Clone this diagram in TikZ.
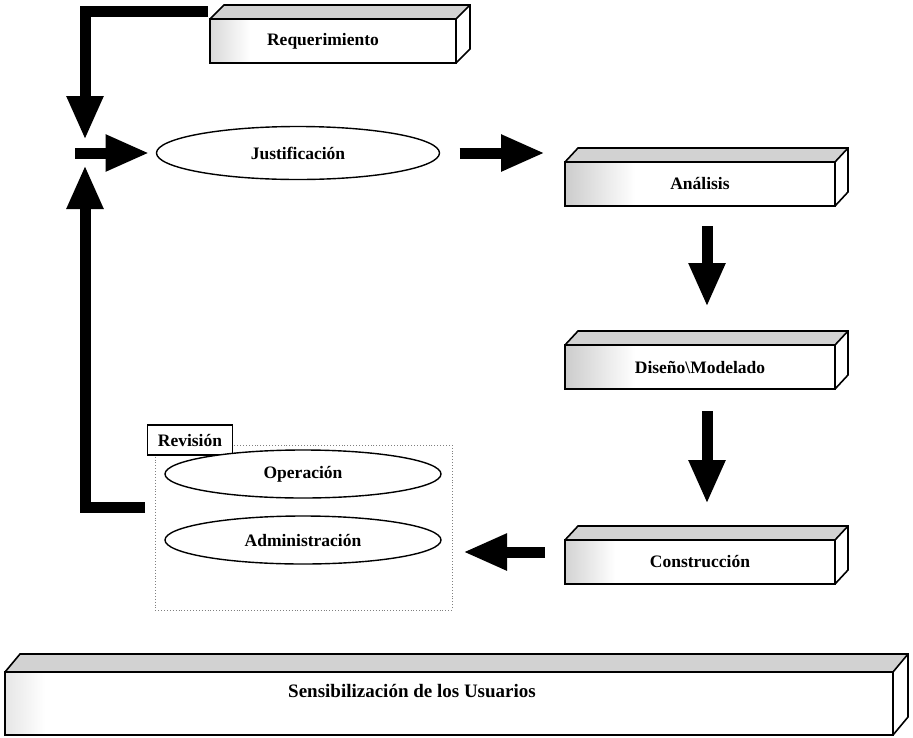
\documentclass[tikz,border=0pt]{standalone}
\usepackage{fontspec}
\setmainfont{Liberation Serif}
\usetikzlibrary{arrows.meta,calc,shapes.geometric}
\newcommand\prismfaces[5]{% name, dx, dy, fade colour, fade width
  \shade[left color=#4, right color=white] (#1.north west) rectangle ($(#1.south west)+(#5,0)$);
  \fill[gray!35] (#1.north west) -- ++(#2pt,#3pt) -- ([shift={(#2pt,#3pt)}]#1.north east) -- (#1.north east) -- cycle;
  \fill[white] (#1.north east) -- ++(#2pt,#3pt) -- ([shift={(#2pt,#3pt)}]#1.south east) -- (#1.south east) -- cycle;
  \draw[boxline] (#1.north west) rectangle (#1.south east);
  \draw[boxline] (#1.north west) -- ++(#2pt,#3pt) -- ([shift={(#2pt,#3pt)}]#1.north east) -- ([shift={(#2pt,#3pt)}]#1.south east) -- (#1.south east);
  \draw[boxline] (#1.north east) -- ++(#2pt,#3pt);
}
\begin{document}
\begin{tikzpicture}[x=1pt,y=-1pt,
  boxline/.style={line width=1.6pt, line join=miter},
  lbl/.style={font=\bfseries\fontsize{17.5}{19}\selectfont, inner sep=0pt},
  front/.style={draw, line width=1.6pt, fill=white, minimum width=270pt, minimum height=44pt, inner sep=0pt, outer sep=0pt},
  oval/.style={draw, ellipse, line width=1.4pt, fill=white, minimum width=283pt, minimum height=53pt, inner sep=0pt, outer sep=0pt, font=\bfseries\fontsize{17.5}{19}\selectfont},
  bigarrow/.style={line width=11pt, line join=miter, -{Triangle[length=44pt,width=34pt]}},
]
\fill[white] (0,0) rectangle (913,737);
\useasboundingbox (0,0) rectangle (913,737);

% prisms
\node[front, minimum width=246pt] (req) at (333,41) {};
\prismfaces{req}{14}{14}{gray!30}{40}
\node[lbl] at ($(req.center)+(-10,0)$) {Requerimiento};
\node[front] (ana) at (700,184) {};
\prismfaces{ana}{13}{14}{gray!40}{70}
\node[lbl] at (ana.center) {Análisis};
\node[front] (dis) at (700,367) {};
\prismfaces{dis}{13}{14}{gray!40}{70}
\node[lbl] at (dis.center) {Diseño\textbackslash Modelado};
\node[front] (con) at (700,562) {};
\prismfaces{con}{13}{14}{gray!35}{50}
\node[lbl] at (con.center) {Construcción};

% bottom wide prism
\node[front, minimum width=888pt, minimum height=63pt] (sen) at (449,703.5) {};
\prismfaces{sen}{15}{18}{gray!20}{40}
\node[lbl, font=\bfseries\fontsize{19}{21}\selectfont] (sentxt) at (412,691) {Sensibilización de los Usuarios};

% ellipses and review group
\node[oval] (just) at (298,153) {Justificación};
\draw[dotted, gray, line width=0.9pt] (155,445) rectangle (452,610);
\node[draw, line width=1.6pt, fill=white, minimum width=85pt, minimum height=30pt, inner sep=0pt, outer sep=0pt, font=\bfseries\fontsize{17.5}{19}\selectfont] (rev) at (190,440) {Revisión};
\node[oval, minimum width=276pt, minimum height=48pt] (ope) at (303,474) {Operación};
\node[oval, minimum width=276pt, minimum height=48pt] (adm) at (303,540) {Administración};

% junction of the loop
\coordinate (jn) at (85,153);

% arrows
\draw[bigarrow] ($(req.north west)+(-2,-8)$) -| ($(jn)+(0,-13)$);
\draw[bigarrow] ($(jn)+(-10,0)$) -- ($(just.west)+(-7,0)$);
\draw[bigarrow] ($(ope.west)!0.5!(adm.west)+(-20,0)$) -| ($(jn)+(0,12)$);
\draw[bigarrow] ($(just.east)+(20,0)$) -- ($(ana.west|-just.east)+(-20,0)$);
\draw[bigarrow] ($(ana.south)+(7,20)$) -- ($(dis.north)+(7,-38)$);
\draw[bigarrow] ($(dis.south)+(7,22)$) -- ($(con.north)+(7,-36)$);
\draw[bigarrow] ($(con.west)+(-20,-10)$) -- ($(con.west -| adm.east)+(22,-10)$);
\end{tikzpicture}
\end{document}
